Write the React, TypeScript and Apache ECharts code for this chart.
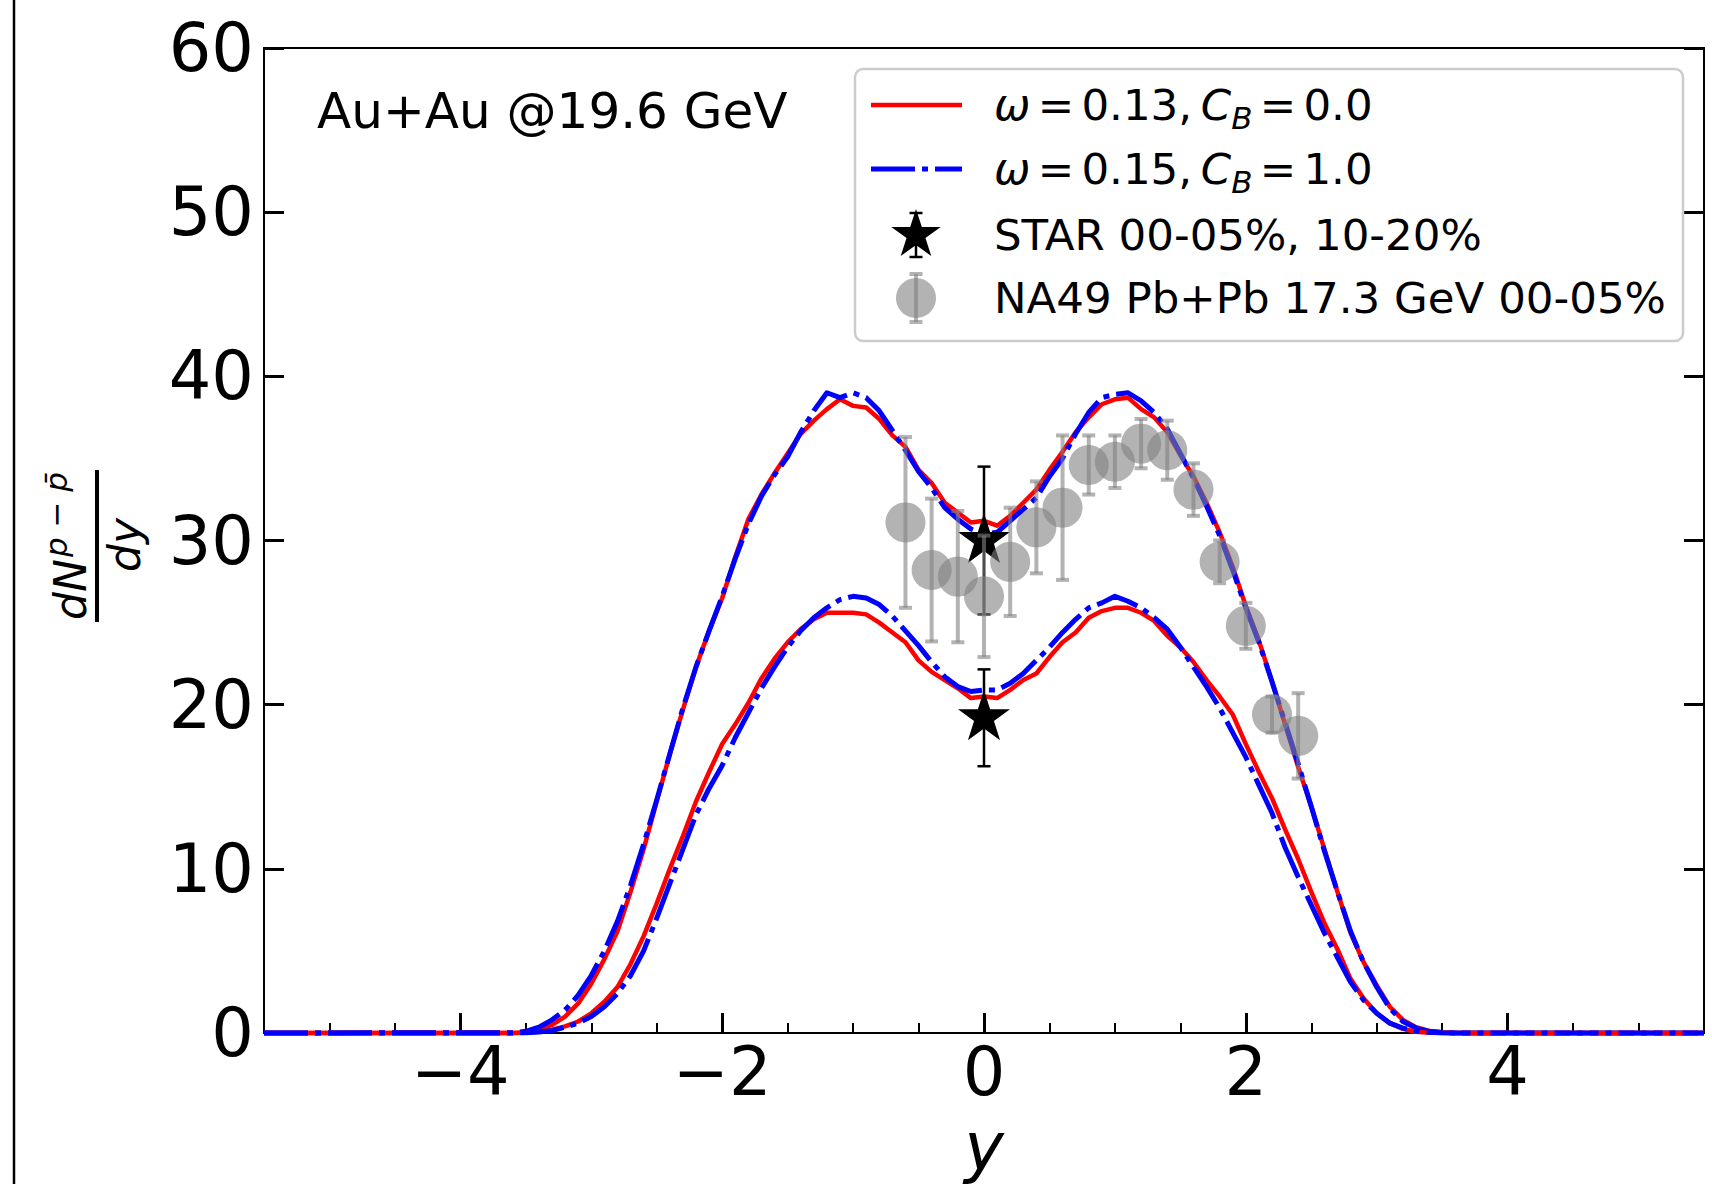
import React, { useEffect, useRef } from "react";
import * as echarts from "echarts";

const FONT = "DejaVu Sans";

// rapidity grid of the model curves
const rapidity = [
  -5.5,
  -3.6, -3.5, -3.4, -3.3, -3.2, -3.1, -3.0, -2.9, -2.8, -2.7,
  -2.6, -2.5, -2.4, -2.3, -2.2, -2.1, -2.0, -1.9, -1.8, -1.7,
  -1.6, -1.5, -1.4, -1.3, -1.2, -1.1, -1.0, -0.9, -0.8, -0.7,
  -0.6, -0.5, -0.4, -0.3, -0.2, -0.1, 0.0, 0.1, 0.2, 0.3,
  0.4, 0.5, 0.6, 0.7, 0.8, 0.9, 1.0, 1.1, 1.2, 1.3,
  1.4, 1.5, 1.6, 1.7, 1.8, 1.9, 2.0, 2.1, 2.2, 2.3,
  2.4, 2.5, 2.6, 2.7, 2.8, 2.9, 3.0, 3.1, 3.2, 3.3,
  3.4, 3.5, 3.6,
  5.5,
];

// omega = 0.13, C_B = 0.0 (red), 0-5% centrality
const redCentral = [
  0,
  0, 0.05, 0.2, 0.5, 1.0, 1.8, 3.0, 4.5, 6.2, 8.6,
  11.2, 14.1, 17.0, 19.7, 22.3, 24.5, 26.5, 29.0, 31.3, 32.8,
  34.1, 35.3, 36.5, 37.3, 38.0, 38.6, 38.2, 38.1, 37.4, 36.4,
  35.7, 34.3, 33.5, 32.3, 31.7, 31.1, 31.2, 30.9, 31.5, 32.3,
  33.1, 34.3, 35.4, 36.6, 37.5, 38.3, 38.6, 38.7, 38.0, 37.5,
  36.6, 35.2, 33.9, 32.3, 30.5, 28.4, 26.0, 23.9, 21.4, 18.8,
  16.2, 13.8, 11.2, 8.6, 6.1, 4.3, 2.9, 1.6, 0.8, 0.35,
  0.12, 0.04, 0,
  0,
];

// omega = 0.15, C_B = 1.0 (blue), 0-5% centrality
const blueCentral = [
  0,
  0.02, 0.1, 0.35, 0.8, 1.4, 2.3, 3.5, 5.0, 6.8, 9.0,
  11.5, 14.2, 17.0, 19.8, 22.3, 24.5, 26.6, 28.9, 31.0, 32.7,
  34.0, 35.1, 36.6, 37.9, 39.0, 38.7, 39.0, 38.7, 37.9, 36.7,
  35.5, 34.2, 33.2, 32.0, 31.3, 30.7, 30.4, 30.5, 31.2, 31.9,
  32.6, 33.9, 35.0, 36.5, 37.8, 38.7, 38.9, 39.0, 38.5, 37.8,
  36.8, 35.3, 33.8, 32.1, 30.3, 28.2, 25.9, 23.8, 21.4, 18.9,
  16.4, 13.8, 11.1, 8.6, 6.2, 4.3, 2.8, 1.5, 0.7, 0.3,
  0.1, 0.03, 0,
  0,
];

// omega = 0.13, C_B = 0.0 (red), 10-20% centrality
const redPeripheral = [
  0,
  0, 0.02, 0.08, 0.2, 0.4, 0.7, 1.2, 1.9, 2.8, 4.2,
  5.9, 7.9, 10.0, 12.0, 14.1, 15.9, 17.6, 18.8, 20.1, 21.6,
  22.8, 23.8, 24.6, 25.2, 25.6, 25.6, 25.6, 25.5, 25.0, 24.4,
  23.8, 22.7, 22.0, 21.5, 21.0, 20.4, 20.5, 20.4, 20.9, 21.5,
  21.9, 22.9, 23.8, 24.4, 25.3, 25.7, 25.9, 25.9, 25.6, 25.1,
  24.2, 23.5, 22.6, 21.5, 20.5, 19.4, 17.6, 15.9, 14.3, 12.4,
  10.6, 8.6, 6.7, 5.1, 3.3, 2.1, 1.2, 0.6, 0.25, 0.08,
  0.02, 0, 0,
  0,
];

// omega = 0.15, C_B = 1.0 (blue), 10-20% centrality
const bluePeripheral = [
  0,
  0, 0.02, 0.06, 0.15, 0.35, 0.6, 1.0, 1.6, 2.4, 3.5,
  5.0, 7.0, 9.1, 11.2, 13.3, 14.9, 16.3, 18.0, 19.5, 21.0,
  22.3, 23.5, 24.5, 25.3, 25.9, 26.4, 26.6, 26.5, 26.1, 25.4,
  24.5, 23.6, 22.6, 21.7, 21.1, 20.8, 20.9, 20.9, 21.3, 21.9,
  22.7, 23.5, 24.4, 25.2, 25.9, 26.2, 26.6, 26.3, 25.9, 25.3,
  24.6, 23.5, 22.3, 21.1, 19.8, 18.3, 16.8, 15.1, 13.4, 11.3,
  9.5, 7.8, 6.1, 4.6, 3.1, 2.0, 1.2, 0.6, 0.3, 0.12,
  0.04, 0.01, 0,
  0,
];

// STAR data (0-5%, 10-20%)
const starRapidity = [0, 0];
const starValues = [30.0, 19.2];
const starErrors = [4.5, 2.95];

// NA49 Pb+Pb 17.3 GeV 0-5%
const na49Rapidity = [-0.6, -0.4, -0.2, 0.0, 0.2, 0.4, 0.6, 0.8, 1.0, 1.2, 1.4, 1.6, 1.8, 2.0, 2.2, 2.4];
const na49Values = [31.1, 28.2, 27.8, 26.6, 28.7, 30.8, 32.0, 34.6, 34.8, 35.9, 35.5, 33.1, 28.7, 24.8, 19.4, 18.1];
const na49Errors = [5.2, 4.35, 4.0, 3.7, 3.3, 2.8, 4.4, 1.8, 1.6, 1.5, 1.8, 1.6, 1.3, 1.4, 1.1, 2.6];

// axis ticks
const xMajorTicks = [-4, -2, 0, 2, 4];
const xMinorTicks = [-5, -4.5, -3.5, -3, -2.5, -1.5, -1, -0.5, 0.5, 1, 1.5, 2.5, 3, 3.5, 4.5, 5];

// legend labels (thin spaces imitate mathtext spacing)
const legendLabels = [
  "{i|ω}{n|\u2006=\u20060.13,\u2009}{i|C}{s|B}{n|\u2006=\u20060.0}",
  "{i|ω}{n|\u2006=\u20060.15,\u2009}{i|C}{s|B}{n|\u2006=\u20061.0}",
  "STAR 00-05%, 10-20%",
  "NA49 Pb+Pb 17.3 GeV 00-05%",
];

// unit 5-point star (matplotlib '*' marker), centred at origin
const starUnit: number[][] = [
  [0, -1], [0.2245, -0.309], [0.9511, -0.309], [0.3633, 0.118], [0.5878, 0.809],
  [0, 0.382], [-0.5878, 0.809], [-0.3633, 0.118], [-0.9511, -0.309], [-0.2245, -0.309],
];
const starPath =
  "path://" +
  starUnit.map((p, i) => `${i === 0 ? "M" : "L"}${(p[0] * 100 + 100).toFixed(2)},${(p[1] * 100 + 100).toFixed(2)}`).join(" ") +
  " Z";

const fmtTick = (v: number) => (v < 0 ? "\u2212" + Math.abs(v) : String(v));

const GRAY = "rgba(128,128,128,0.6)";

function lineSeries(name: string, vals: number[], color: string, width: number, type: any, z: number) {
  return {
    type: "line",
    name,
    data: rapidity.map((x, i) => [x, vals[i]]),
    symbol: "none",
    showSymbol: false,
    clip: false,
    silent: true,
    z,
    lineStyle: { color, width, type, cap: "butt", join: "round" },
    itemStyle: { color },
  };
}

function errorSeries(name: string, xs: number[], vs: number[], es: number[], color: string, width: number, capHalf: number, z: number) {
  return {
    type: "custom",
    name,
    data: xs.map((x, i) => [x, vs[i] - es[i], vs[i] + es[i]]),
    encode: { x: 0, y: [1, 2] },
    clip: false,
    silent: true,
    z,
    renderItem: (_params: any, api: any) => {
      const x = api.value(0);
      const a = api.coord([x, api.value(1)]);
      const b = api.coord([x, api.value(2)]);
      const style = { stroke: color, lineWidth: width, fill: "none" };
      return {
        type: "group",
        children: [
          { type: "line", shape: { x1: a[0], y1: a[1], x2: b[0], y2: b[1] }, style },
          { type: "line", shape: { x1: a[0] - capHalf, y1: a[1], x2: a[0] + capHalf, y2: a[1] }, style },
          { type: "line", shape: { x1: b[0] - capHalf, y1: b[1], x2: b[0] + capHalf, y2: b[1] }, style },
        ],
      };
    },
  };
}

const txt = (text: string, x: number, y: number, fontSize: number, extra: any = {}) => ({
  type: "text",
  silent: true,
  style: {
    text,
    x,
    y,
    fontSize,
    fontFamily: FONT,
    fill: "#000",
    align: "left",
    verticalAlign: "middle",
    textAlign: "left",
    textVerticalAlign: "middle",
    ...extra,
  },
});

const LFS = 43.5;
const legendRich = {
  i: { fontStyle: "italic", fontSize: LFS, fontFamily: FONT, lineHeight: 56, fill: "#000" },
  n: { fontSize: LFS, fontFamily: FONT, lineHeight: 56, fill: "#000" },
  s: { fontStyle: "italic", fontSize: 31, fontFamily: FONT, lineHeight: 28, verticalAlign: "bottom", fill: "#000" },
};

function buildGraphic() {
  const lx = 916;
  const rows = [105, 169, 235, 298];
  const textX = 994;
  const els: any[] = [];
  // stray figure border line on the far left
  els.push({ type: "line", silent: true, shape: { x1: 14, y1: 0, x2: 14, y2: 1184 }, style: { stroke: "#000", lineWidth: 2.5 } });
  // annotation
  els.push(txt("Au+Au @19.6 GeV", 317, 111, 50));
  // legend frame
  els.push({
    type: "rect",
    silent: true,
    shape: { x: 855, y: 69, width: 828, height: 272, r: 8 },
    style: { fill: "rgba(255,255,255,0.8)", stroke: "#cccccc", lineWidth: 2.5 },
    z: 100,
  });
  const lz = 101;
  els.push({ type: "line", z: lz, silent: true, shape: { x1: 871, y1: rows[0], x2: 962, y2: rows[0] }, style: { stroke: "#ff0000", lineWidth: 4.5 } });
  els.push({
    type: "line", z: lz, silent: true,
    shape: { x1: 871, y1: rows[1], x2: 962, y2: rows[1] },
    style: { stroke: "#0000ff", lineWidth: 5, lineDash: [44, 7, 6, 7] },
  });
  // STAR legend marker
  const sR = 26;
  els.push({ type: "line", z: lz, silent: true, shape: { x1: lx, y1: rows[2] - 22, x2: lx, y2: rows[2] + 22 }, style: { stroke: "#000", lineWidth: 2.5 } });
  els.push({ type: "line", z: lz, silent: true, shape: { x1: lx - 6.5, y1: rows[2] - 22, x2: lx + 6.5, y2: rows[2] - 22 }, style: { stroke: "#000", lineWidth: 2.5 } });
  els.push({ type: "line", z: lz, silent: true, shape: { x1: lx - 6.5, y1: rows[2] + 22, x2: lx + 6.5, y2: rows[2] + 22 }, style: { stroke: "#000", lineWidth: 2.5 } });
  els.push({
    type: "polygon", z: lz, silent: true,
    shape: { points: starUnit.map((p) => [lx + p[0] * sR, rows[2] + p[1] * sR]) },
    style: { fill: "#000" },
  });
  // NA49 legend marker
  els.push({ type: "line", z: lz, silent: true, shape: { x1: lx, y1: rows[3] - 24, x2: lx, y2: rows[3] + 24 }, style: { stroke: GRAY, lineWidth: 4 } });
  els.push({ type: "line", z: lz, silent: true, shape: { x1: lx - 6.5, y1: rows[3] - 24, x2: lx + 6.5, y2: rows[3] - 24 }, style: { stroke: GRAY, lineWidth: 4 } });
  els.push({ type: "line", z: lz, silent: true, shape: { x1: lx - 6.5, y1: rows[3] + 24, x2: lx + 6.5, y2: rows[3] + 24 }, style: { stroke: GRAY, lineWidth: 4 } });
  els.push({ type: "circle", z: lz, silent: true, shape: { cx: lx, cy: rows[3], r: 20 }, style: { fill: GRAY } });
  // legend texts
  legendLabels.forEach((label, k) => {
    const t: any = txt(label, textX, rows[k], LFS, k < 2 ? { rich: legendRich } : {});
    t.z = lz;
    els.push(t);
  });
  // y-axis label: d N^{p - pbar} / dy, rotated
  els.push({
    type: "group",
    x: 97,
    y: 546,
    rotation: Math.PI / 2,
    silent: true,
    children: [
      { type: "rect", silent: true, shape: { x: -76, y: -2, width: 152, height: 4 }, style: { fill: "#000" } },
      txt("dN", -74, -27, 44, { fontStyle: "italic" }),
      txt("p \u2212 p\u0304", -11, -41, 31, { fontStyle: "italic" }),
      txt("dy", 1, 27, 44, { fontStyle: "italic", align: "center", textAlign: "center" }),
    ],
  });
  return els;
}

export default function App() {
  const ref = useRef<HTMLDivElement>(null);
  useEffect(() => {
    if (!ref.current) return;
    const chart = echarts.init(ref.current, null, { renderer: "svg" });
    const axisFont = { fontSize: 67, fontFamily: FONT, color: "#000" };
    const option: any = {
      animation: false,
      backgroundColor: "#ffffff",
      textStyle: { fontFamily: FONT },
      grid: {
        left: 264,
        right: 8,
        top: 48,
        bottom: 151,
        containLabel: false,
        outerBoundsMode: "none",
        show: true,
        borderColor: "#000",
        borderWidth: 2,
        backgroundColor: "transparent",
      },
      xAxis: [
        {
          type: "value",
          min: -5.5,
          max: 5.5,
          position: "bottom",
          axisLine: { show: false, onZero: false },
          splitLine: { show: false },
          axisTick: { show: true, inside: true, length: 20, lineStyle: { color: "#000", width: 3 }, customValues: xMajorTicks },
          axisLabel: { ...axisFont, margin: 5, customValues: xMajorTicks, formatter: (v: number) => fmtTick(v) },
          name: "y",
          nameLocation: "middle",
          nameGap: 80,
          nameTextStyle: { fontSize: 67, fontFamily: FONT, fontStyle: "italic", color: "#000" },
        },
        {
          type: "value",
          min: -5.5,
          max: 5.5,
          position: "bottom",
          axisLine: { show: false, onZero: false },
          splitLine: { show: false },
          axisTick: { show: true, inside: true, length: 10, lineStyle: { color: "#000", width: 2 }, customValues: xMinorTicks },
          axisLabel: { show: false },
        },
      ],
      yAxis: [
        {
          type: "value",
          min: 0,
          max: 60,
          interval: 10,
          position: "left",
          axisLine: { show: false, onZero: false },
          splitLine: { show: false },
          axisTick: { show: true, inside: true, length: 20, lineStyle: { color: "#000", width: 3 } },
          axisLabel: { ...axisFont, margin: 10, formatter: (v: number) => fmtTick(v) },
        },
        {
          type: "value",
          min: 0,
          max: 60,
          interval: 10,
          position: "right",
          axisLine: { show: false, onZero: false },
          splitLine: { show: false },
          axisTick: { show: true, inside: true, length: 20, lineStyle: { color: "#000", width: 3 } },
          axisLabel: { show: false },
        },
      ],
      series: [
        lineSeries("ω = 0.13, C_B = 0.0", redCentral, "#ff0000", 4.5, "solid", 2),
        lineSeries("ω = 0.15, C_B = 1.0", blueCentral, "#0000ff", 5, [44, 7, 6, 7], 2),
        lineSeries("ω = 0.13, C_B = 0.0 (10-20%)", redPeripheral, "#ff0000", 4.5, "solid", 2),
        lineSeries("ω = 0.15, C_B = 1.0 (10-20%)", bluePeripheral, "#0000ff", 5, [44, 7, 6, 7], 2),
        errorSeries("STAR errors", starRapidity, starValues, starErrors, "#000", 2.5, 6.5, 3),
        {
          type: "scatter",
          name: "STAR 00-05%, 10-20%",
          data: starRapidity.map((x, i) => [x, starValues[i]]),
          symbol: starPath,
          symbolSize: [52, 50],
          symbolOffset: [0, -2.6],
          itemStyle: { color: "#000", opacity: 1 },
          silent: true,
          clip: false,
          z: 4,
        },
        errorSeries("NA49 errors", na49Rapidity, na49Values, na49Errors, GRAY, 4, 6.5, 5),
        {
          type: "scatter",
          name: "NA49 Pb+Pb 17.3 GeV 00-05%",
          data: na49Rapidity.map((x, i) => [x, na49Values[i]]),
          symbol: "circle",
          symbolSize: 40,
          itemStyle: { color: GRAY, opacity: 1 },
          silent: true,
          clip: false,
          z: 6,
        },
      ],
      graphic: { elements: buildGraphic() },
    };
    chart.setOption(option);
    return () => chart.dispose();
  }, []);
  return (
    <div
      ref={ref}
      style={{ position: "absolute", left: 0, top: 0, width: 1712, height: 1184, background: "#fff" }}
    />
  );
}
